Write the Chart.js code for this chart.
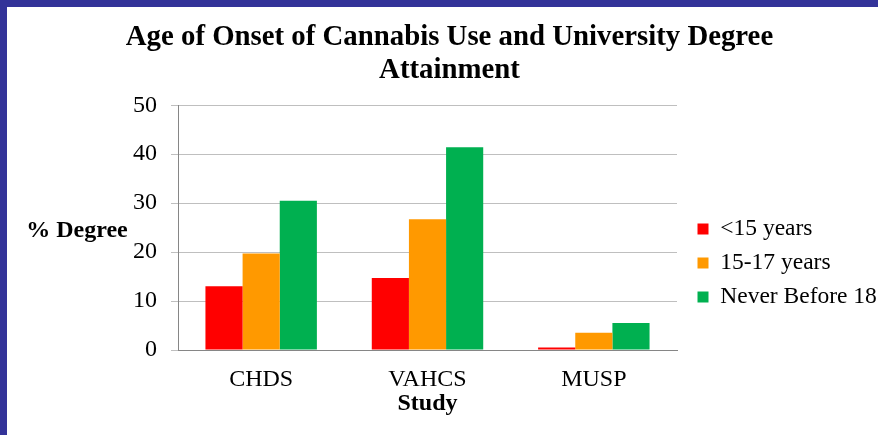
<!DOCTYPE html>
<html>
<head>
<meta charset="utf-8">
<script src="https://cdn.jsdelivr.net/npm/chart.js@4.4.1/dist/chart.umd.min.js"></script>
<style>
  body { margin: 0; background: #333399; width: 878px; height: 435px; overflow: hidden; }
  #wrap { position: absolute; left: 7px; top: 7px; width: 871px; height: 428px; background: #fff; }
</style>
</head>
<body>
<div id="wrap"><canvas id="chart" width="871" height="428"></canvas></div>
<script>
const studies = ['CHDS', 'VAHCS', 'MUSP'];
const under15 = [13.0, 14.7, 0.5];
const age15to17 = [19.7, 26.7, 3.5];
const never18 = [30.5, 41.4, 5.5];
const yTicks = [0, 10, 20, 30, 40, 50];

const serif = '"Liberation Serif", "Times New Roman", serif';

// y axis title is drawn horizontally to the left of the tick labels
const sideTitle = {
    id: 'sideTitle',
    afterDraw(chart) {
        const ctx = chart.ctx;
        ctx.save();
        ctx.font = 'bold 24px ' + serif;
        ctx.fillStyle = '#000';
        ctx.textAlign = 'center';
        ctx.textBaseline = 'middle';
        ctx.fillText('% Degree', 70, 224);
        ctx.restore();
    }
};

// fixed-width legend column on the right, nudged into place after layout
const legendBox = {
    id: 'legendBox',
    beforeUpdate(chart) {
        const lg = chart.legend;
        if (!lg || lg._fixed) return;
        const fit = lg.fit.bind(lg);
        lg.fit = function () { fit(); this.width = 201; };
        lg._fixed = true;
    },
    afterLayout(chart) {
        const lg = chart.legend;
        lg.left += 10;
        lg.right += 10;
        lg.top += 42;
        lg.bottom += 42;
    }
};

new Chart(document.getElementById('chart'), {
    type: 'bar',
    data: {
        labels: studies,
        datasets: [
            { label: '<15 years', data: under15, backgroundColor: '#FF0000' },
            { label: '15-17 years', data: age15to17, backgroundColor: '#FF9900' },
            { label: 'Never Before 18', data: never18, backgroundColor: '#00B050' }
        ]
    },
    options: {
        responsive: false,
        animation: false,
        layout: { padding: { left: 14, right: 0, top: 0, bottom: 0 } },
        datasets: { bar: { categoryPercentage: 0.67, barPercentage: 1.0 } },
        plugins: {
            title: {
                display: true,
                text: ['Age of Onset of Cannabis Use and University Degree', 'Attainment'],
                color: '#000',
                font: { family: serif, size: 28.8, weight: 'bold', lineHeight: 1.15 },
                padding: { top: 14, bottom: 18 }
            },
            legend: {
                position: 'right',
                labels: {
                    color: '#000',
                    font: { family: serif, size: 23.5 },
                    boxWidth: 11,
                    boxHeight: 11,
                    padding: 10.5
                }
            },
            tooltip: { enabled: false }
        },
        scales: {
            x: {
                grid: { display: false, drawTicks: false },
                border: { display: true, color: '#868686', width: 1 },
                ticks: { color: '#000', font: { family: serif, size: 24 }, padding: 15 },
                title: {
                    display: true,
                    text: 'Study',
                    color: '#000',
                    font: { family: serif, size: 24, weight: 'bold' },
                    padding: { top: 0, bottom: 17 }
                },
                afterFit(scale) { scale.height = 85; }
            },
            y: {
                min: 0,
                max: 50,
                afterBuildTicks(scale) { scale.ticks = yTicks.map(v => ({ value: v })); },
                grid: { color: '#BFBFBF', lineWidth: 1, tickLength: 7, tickColor: '#BFBFBF' },
                border: { display: true, color: '#868686', width: 1 },
                ticks: { color: '#000', font: { family: serif, size: 24 }, padding: 14 },
                afterFit(scale) { scale.width = 157; }
            }
        }
    },
    plugins: [sideTitle, legendBox]
});
</script>
</body>
</html>
